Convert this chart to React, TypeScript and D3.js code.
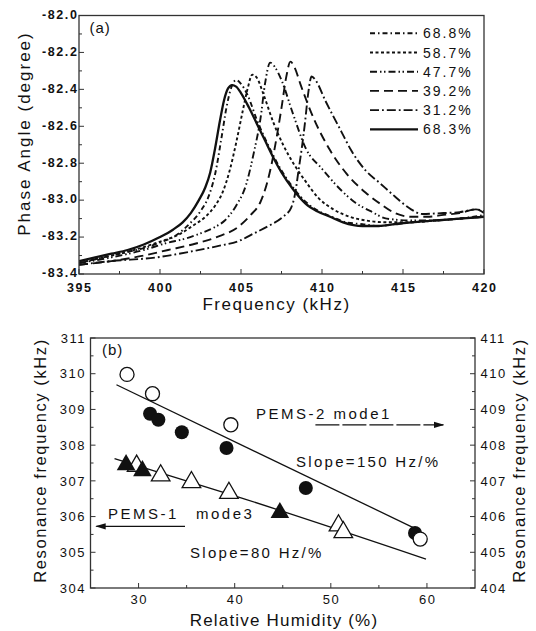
import React from "react";
import * as d3 from "d3";

// ---- panel (a): phase angle vs frequency ----
const aXTicks = [395, 400, 405, 410, 415, 420];
const aYTicks = [-83.4, -83.2, -83.0, -82.8, -82.6, -82.4, -82.2, -82.0];

const f683 = [395, 396, 397, 398, 399, 400, 400.8, 401.4, 401.9, 402.4, 402.8, 403.1, 403.4, 403.7, 403.95, 404.2, 404.45, 404.7, 405, 405.5, 406, 406.5, 407, 407.5, 408.2, 409, 409.7, 410.5, 411.3, 412.5, 413.5, 414.5, 415.5, 417, 418.5, 420];
const p683 = [-83.33, -83.31, -83.29, -83.27, -83.24, -83.2, -83.16, -83.12, -83.07, -83.0, -82.93, -82.85, -82.72, -82.57, -82.46, -82.395, -82.377, -82.385, -82.42, -82.5, -82.59, -82.68, -82.77, -82.85, -82.94, -83.02, -83.06, -83.09, -83.12, -83.14, -83.14, -83.13, -83.12, -83.11, -83.1, -83.09];

const f688 = [395, 396, 397, 398, 399, 400, 401, 401.8, 402.5, 403, 403.4, 403.8, 404.1, 404.4, 404.7, 405, 405.4, 406, 406.5, 407, 407.5, 408.2, 409, 409.8, 410.6, 411.5, 412.5, 413.5, 414.5, 415.5, 417, 418.5, 420];
const p688 = [-83.34, -83.32, -83.3, -83.28, -83.26, -83.23, -83.19, -83.13, -83.06, -82.98, -82.86, -82.66, -82.5, -82.39, -82.35, -82.37, -82.43, -82.57, -82.67, -82.76, -82.84, -82.93, -83.01, -83.06, -83.09, -83.12, -83.13, -83.14, -83.13, -83.12, -83.11, -83.1, -83.08];

const f587 = [395, 396.5, 398, 399.5, 400.5, 401.3, 402, 402.8, 403.4, 403.9, 404.3, 404.7, 405.1, 405.4, 405.7, 406, 406.4, 407, 407.6, 408.3, 409, 409.8, 410.7, 411.7, 412.7, 414, 415.5, 417, 418.5, 420];
const p587 = [-83.34, -83.31, -83.28, -83.24, -83.21, -83.18, -83.14, -83.09, -83.03, -82.95, -82.84, -82.69, -82.52, -82.4, -82.32, -82.34, -82.43, -82.58, -82.7, -82.81, -82.9, -82.99, -83.05, -83.09, -83.11, -83.12, -83.12, -83.11, -83.1, -83.09];

const f477 = [395, 397, 399, 400.5, 401.5, 402.5, 403.3, 404, 404.7, 405.3, 405.8, 406.2, 406.5, 406.8, 407.1, 407.5, 408.2, 409, 410, 411, 412, 413, 414, 415.5, 417, 418.5, 420];
const p477 = [-83.34, -83.31, -83.27, -83.23, -83.21, -83.18, -83.15, -83.11, -83.03, -82.92, -82.74, -82.56, -82.36, -82.255, -82.28, -82.35, -82.53, -82.72, -82.83, -82.93, -83.01, -83.06, -83.1, -83.11, -83.11, -83.1, -83.09];

const f392 = [395, 397, 399, 400.5, 402, 403.5, 404.9, 405.6, 406.2, 406.6, 406.9, 407.2, 407.5, 407.8, 408.05, 408.3, 408.7, 409.5, 410.5, 411.5, 412.7, 413.6, 414.5, 415.5, 416.5, 417.5, 418.5, 419.5, 420];
const p392 = [-83.35, -83.33, -83.3, -83.27, -83.24, -83.2, -83.14, -83.08, -83.01, -82.91, -82.8, -82.66, -82.5, -82.33, -82.25, -82.28, -82.38, -82.56, -82.73, -82.855, -82.96, -83.02, -83.07, -83.09, -83.09, -83.08, -83.07, -83.05, -83.07];

const f312 = [395, 397, 399.8, 401.8, 403.5, 404.9, 405.8, 406.8, 407.6, 408.1, 408.35, 408.55, 408.75, 408.95, 409.15, 409.36, 409.6, 410.2, 411.2, 411.8, 412.7, 413.6, 414.5, 415.5, 416.2, 417.5, 418.5, 419.5, 420];
const p312 = [-83.35, -83.33, -83.31, -83.28, -83.25, -83.22, -83.18, -83.135, -83.09, -83.04, -82.96, -82.84, -82.72, -82.58, -82.42, -82.33, -82.35, -82.46, -82.63, -82.73, -82.84, -82.91, -82.98, -83.05, -83.075, -83.07, -83.065, -83.05, -83.06];

// ---- panel (b): resonance frequency vs humidity ----
const bXTicks = [30, 40, 50, 60];
const bYTicks = [304, 305, 306, 307, 308, 309, 310, 311];
const bY2Ticks = [404, 405, 406, 407, 408, 409, 410, 411];

const openCircleRH = [28.8, 31.45, 39.6, 59.3];
const openCircleF = [309.98, 309.44, 308.57, 305.37];
const filledCircleRH = [31.2, 32.06, 34.5, 39.15, 47.4, 58.76];
const filledCircleF = [308.88, 308.71, 308.36, 307.92, 306.8, 305.54];
const filledTriRH = [28.7, 30.4, 44.7];
const filledTriF = [307.45, 307.28, 306.11];
const openTriRH = [29.8, 32.3, 35.5, 39.4, 50.8, 51.3];
const openTriF = [307.42, 307.15, 306.96, 306.66, 305.75, 305.56];

const fitUpperRH = [27.7, 58.9];
const fitUpperF = [309.69, 305.65];
const fitLowerRH = [27.5, 40, 59.9];
const fitLowerF = [307.62, 306.58, 304.81];

const FONT = "'Liberation Sans', Arial, sans-serif";
const INK = "#111";

const curves = [
  { label: "68.8%", f: f688, p: p688, dash: "5,3,1.5,3", width: 1.9 },
  { label: "58.7%", f: f587, p: p587, dash: "3,2.5", width: 1.9 },
  { label: "47.7%", f: f477, p: p477, dash: "7,3,1.5,2.5,1.5,3", width: 1.9 },
  { label: "39.2%", f: f392, p: p392, dash: "9,5", width: 1.9 },
  { label: "31.2%", f: f312, p: p312, dash: "9,3,1.8,3", width: 1.9 },
  { label: "68.3%", f: f683, p: p683, dash: "none", width: 2.3 },
];

const aX = d3.scaleLinear().domain([395, 420]).range([79, 484]);
const aY = d3.scaleLinear().domain([-83.4, -82.0]).range([274, 15.5]);
const bX = d3.scaleLinear().domain([25, 65]).range([90.5, 475]);
const bY = d3.scaleLinear().domain([304, 311]).range([588, 338]);
const bY2 = d3.scaleLinear().domain([404, 411]).range([588, 338]);

const PanelA = () => {
  const line = d3
    .line<[number, number]>()
    .x((d) => aX(d[0]))
    .y((d) => aY(d[1]))
    .curve(d3.curveMonotoneX);
  const [x0, x1] = aX.range();
  const [y0, y1] = aY.range();
  const xMinor = d3.range(397.5, 420, 5);
  const yMinor = d3.range(-83.3, -82.0, 0.2);

  return (
    <g>
      <defs>
        <clipPath id="clipA">
          <rect x={x0} y={y1} width={x1 - x0} height={y0 - y1} />
        </clipPath>
      </defs>
      <g clipPath="url(#clipA)">
        {curves.map((c, i) => (
          <path
            key={i}
            d={line(c.f.map((f, j) => [f, c.p[j]]) as [number, number][]) || ""}
            fill="none"
            stroke={INK}
            strokeWidth={c.width}
            strokeDasharray={c.dash}
          />
        ))}
      </g>
      <rect x={x0} y={y1} width={x1 - x0} height={y0 - y1} fill="none" stroke="#333" strokeWidth={1.3} />
      {aXTicks.map((t, i) => (
        <g key={i} transform={`translate(${aX(t)},0)`}>
          <line y1={y0} y2={y0 - 5} stroke="#333" />
          <text y={291.5} textAnchor="middle" fontSize={12.5} fontWeight="bold" letterSpacing={1.6} dx={0.8} fill={INK}>
            {t}
          </text>
        </g>
      ))}
      {xMinor.map((t, i) => (
        <line key={i} x1={aX(t)} x2={aX(t)} y1={y0} y2={y0 - 3} stroke="#333" />
      ))}
      {aYTicks.map((t, i) => (
        <g key={i} transform={`translate(0,${aY(t)})`}>
          <line x1={x0} x2={x0 + 5} stroke="#333" />
          <text x={78.5} y={3.3} textAnchor="end" fontSize={12.5} fontWeight="bold" letterSpacing={1.6} fill={INK}>
            {t.toFixed(1)}
          </text>
        </g>
      ))}
      {yMinor.map((t, i) => (
        <line key={i} x1={x0} x2={x0 + 3} y1={aY(t)} y2={aY(t)} stroke="#333" />
      ))}
      <text x={89.5} y={33} fontSize={15} letterSpacing={1} fill={INK}>(a)</text>
      {curves.map((c, i) => {
        const yy = 33.3 + i * 19.2;
        return (
          <g key={i}>
            <line x1={370} x2={418} y1={yy} y2={yy} stroke={INK} strokeWidth={c.width} strokeDasharray={c.dash} />
            <text x={423} y={yy + 5} fontSize={14} letterSpacing={2} fill={INK}>
              {c.label}
            </text>
          </g>
        );
      })}
      <text x={276.5} y={309.5} textAnchor="middle" fontSize={17} letterSpacing={1.5} fill={INK}>
        Frequency (kHz)
      </text>
      <text
        transform={`translate(29.5,133.5) rotate(-90)`}
        textAnchor="middle"
        fontSize={17}
        letterSpacing={2}
        fill={INK}
      >
        Phase Angle (degree)
      </text>
    </g>
  );
};

const PanelB = () => {
  const [x0, x1] = bX.range();
  const [y0, y1] = bY.range();
  const fit = d3
    .line<[number, number]>()
    .x((d) => bX(d[0]))
    .y((d) => bY(d[1]))
    .curve(d3.curveMonotoneX);
  const circle = d3.symbol(d3.symbolCircle, 155)();
  const tri = d3.symbol(d3.symbolTriangle, 150)();
  const xMinor = [35, 45, 55];
  const yMinor = d3.range(304.5, 311, 1);

  return (
    <g>
      <defs>
        <marker id="arrowHead" viewBox="0 0 10 10" refX="9" refY="5" markerWidth="8" markerHeight="8" orient="auto-start-reverse">
          <path d="M0,2 L10,5 L0,8 Z" fill={INK} />
        </marker>
      </defs>
      <rect x={x0} y={y1} width={x1 - x0} height={y0 - y1} fill="none" stroke="#333" strokeWidth={1.3} />
      {bXTicks.map((t, i) => (
        <g key={i} transform={`translate(${bX(t)},0)`}>
          <line y1={y0} y2={y0 - 5} stroke="#333" />
          <text y={604} textAnchor="middle" fontSize={13} letterSpacing={1.5} dx={0.75} fill={INK}>
            {t}
          </text>
        </g>
      ))}
      {xMinor.map((t, i) => (
        <line key={i} x1={bX(t)} x2={bX(t)} y1={y0} y2={y0 - 3} stroke="#333" />
      ))}
      {bYTicks.map((t, i) => (
        <g key={i} transform={`translate(0,${bY(t)})`}>
          <line x1={x0} x2={x0 + 5} stroke="#333" />
          <text x={86} y={4.7} textAnchor="end" fontSize={13} letterSpacing={1.5} fill={INK}>
            {t}
          </text>
        </g>
      ))}
      {bY2Ticks.map((t, i) => (
        <g key={i} transform={`translate(0,${bY2(t)})`}>
          <line x1={x1} x2={x1 - 5} stroke="#333" />
          <text x={480.5} y={4.7} fontSize={13} letterSpacing={1.5} fill={INK}>
            {t}
          </text>
        </g>
      ))}
      {yMinor.map((t, i) => (
        <g key={i}>
          <line x1={x0} x2={x0 + 3} y1={bY(t)} y2={bY(t)} stroke="#333" />
          <line x1={x1} x2={x1 - 3} y1={bY(t)} y2={bY(t)} stroke="#333" />
        </g>
      ))}
      <path d={fit(fitUpperRH.map((r, j) => [r, fitUpperF[j]]) as [number, number][]) || ""} fill="none" stroke={INK} strokeWidth={1.3} />
      <path d={fit(fitLowerRH.map((r, j) => [r, fitLowerF[j]]) as [number, number][]) || ""} fill="none" stroke={INK} strokeWidth={1.3} />
      {filledCircleRH.map((r, i) => (
        <path key={i} d={circle || ""} transform={`translate(${bX(r)},${bY(filledCircleF[i])})`} fill={INK} />
      ))}
      {openCircleRH.map((r, i) => (
        <path key={i} d={circle || ""} transform={`translate(${bX(r)},${bY(openCircleF[i])})`} fill="#fff" stroke={INK} strokeWidth={1.3} />
      ))}
      {openTriRH.map((r, i) => (
        <path key={i} d={tri || ""} transform={`translate(${bX(r)},${bY(openTriF[i])})`} fill="#fff" stroke={INK} strokeWidth={1.3} />
      ))}
      {filledTriRH.map((r, i) => (
        <path key={i} d={tri || ""} transform={`translate(${bX(r)},${bY(filledTriF[i])})`} fill={INK} />
      ))}
      <text x={102} y={355} fontSize={15} letterSpacing={1} fill={INK}>(b)</text>
      <text x={256} y={418.8} fontSize={15} letterSpacing={2.5} fill={INK}>PEMS-2 mode1</text>
      <line x1={315.4} x2={443.3} y1={424.8} y2={424.8} stroke={INK} strokeWidth={1.3} strokeDasharray="24,3" markerEnd="url(#arrowHead)" />
      <text x={296} y={466.5} fontSize={15} letterSpacing={2.3} fill={INK}>Slope=150 Hz/%</text>
      <text x={108} y={519} fontSize={15} letterSpacing={2.5} fill={INK}>PEMS-1</text>
      <text x={196} y={519} fontSize={15} letterSpacing={2.5} fill={INK}>mode3</text>
      <line x1={185} x2={96.3} y1={526.3} y2={526.3} stroke={INK} strokeWidth={1.3} markerEnd="url(#arrowHead)" />
      <text x={190} y={558} fontSize={15} letterSpacing={2.3} fill={INK}>Slope=80 Hz/%</text>
      <text x={284} y={626} textAnchor="middle" fontSize={17} letterSpacing={1.2} fill={INK}>
        Relative Humidity (%)
      </text>
      <text transform={`translate(46,460.5) rotate(-90)`} textAnchor="middle" fontSize={16.5} letterSpacing={1.6} fill={INK}>
        Resonance frequency (kHz)
      </text>
      <text transform={`translate(525,460.5) rotate(-90)`} textAnchor="middle" fontSize={16.5} letterSpacing={1.6} fill={INK}>
        Resonance frequency (kHz)
      </text>
    </g>
  );
};

export default function App() {
  return (
    <svg
      width={536}
      height={631}
      style={{ position: "absolute", left: 0, top: 0, background: "#fff" }}
      fontFamily={FONT}
    >
      <PanelA />
      <PanelB />
    </svg>
  );
}
